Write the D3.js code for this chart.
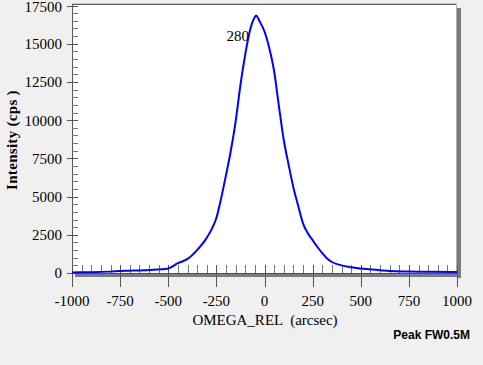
<!DOCTYPE html>
<html><head><meta charset="utf-8">
<script src="https://cdn.jsdelivr.net/npm/d3@7"></script>
<style>html,body{margin:0;padding:0;background:#f0f0f0;}svg{display:block;}</style>
</head><body><svg id="c" width="483" height="365"></svg>
<script>
const omega = [-1000,-900,-800,-750,-700,-600,-500,-450,-400,-350,-300,-275,-250,-225,-200,-175,-150,-125,-100,-75,-50,-44,-25,0,25,50,75,100,125,150,175,200,225,250,275,300,325,350,400,450,530,600,650,750,850,1000];
const intensity = [40,50,90,130,150,200,300,640,920,1500,2300,2850,3600,4900,6400,8000,9900,12300,14300,15900,16750,16850,16450,15800,14700,13200,10900,8700,7100,5600,4400,3250,2600,2150,1700,1300,950,720,500,380,260,180,130,100,80,60];
const xTicks = [-1000,-750,-500,-250,0,250,500,750,1000];
const yTicks = [0,2500,5000,7500,10000,12500,15000,17500];
const peakLabel = "280";
const xTitle = "OMEGA_REL  (arcsec)";
const yTitle = "Intensity (cps )";
const footer = "Peak FW0.5M";

const svg = d3.select("#c");
const L = 72, R = 456, T = 4.5, B = 273;
const x = d3.scaleLinear().domain([-1000,1000]).range([L, R+1]);
const y = d3.scaleLinear().domain([0,17500]).range([B, 5.5]);

// plot area
svg.append("rect").attr("x",L).attr("y",T).attr("width",R-L).attr("height",B-T).attr("fill","#fff");
// shadows
svg.append("rect").attr("x",R+1).attr("y",8).attr("width",4).attr("height",270).attr("fill","#7b7b7b");
svg.append("rect").attr("x",75).attr("y",B).attr("width",R+2-75).attr("height",4).attr("fill","#7b7b7b");
// borders
svg.append("line").attr("x1",L).attr("x2",R+1).attr("y1",3.5).attr("y2",3.5).attr("stroke","#c8c8c8");
svg.append("line").attr("x1",L).attr("x2",R+1).attr("y1",4.5).attr("y2",4.5).attr("stroke","#606060");
svg.append("line").attr("x1",R+0.5).attr("x2",R+0.5).attr("y1",4).attr("y2",B).attr("stroke","#b0b0b0");
svg.append("line").attr("x1",L).attr("x2",R+2).attr("y1",B+0.5).attr("y2",B+0.5).attr("stroke","#555");

// x minor ticks
const xMinor = d3.range(-1000, 1001, 50);
svg.append("g").selectAll("line").data(xMinor).join("line")
  .attr("x1",d=>Math.round(x(d))+0.5).attr("x2",d=>Math.round(x(d))+0.5)
  .attr("y1",265).attr("y2",B).attr("stroke","#777");
svg.append("g").selectAll("line").data(xTicks).join("line")
  .attr("x1",d=>Math.round(x(d))+0.5).attr("x2",d=>Math.round(x(d))+0.5)
  .attr("y1",265).attr("y2",287).attr("stroke","#555");
// y axis
svg.append("line").attr("x1",L+0.5).attr("x2",L+0.5).attr("y1",4).attr("y2",287).attr("stroke","#555");
const yMinor = d3.range(0, 17501, 500);
svg.append("g").selectAll("line").data(yMinor).join("line")
  .attr("x1",L).attr("x2",L+6)
  .attr("y1",d=>Math.round(y(d))+0.5).attr("y2",d=>Math.round(y(d))+0.5).attr("stroke","#777");
svg.append("g").selectAll("line").data(yTicks).join("line")
  .attr("x1",L-5).attr("x2",L+6)
  .attr("y1",d=>Math.round(y(d))+0.5).attr("y2",d=>Math.round(y(d))+0.5).attr("stroke","#555");

// curve
svg.append("path").datum(omega.map((o,i)=>[o,intensity[i]]))
  .attr("fill","none").attr("stroke","#0000ff").attr("stroke-width",2).attr("stroke-linejoin","round")
  .attr("d", d3.line().x(d=>x(d[0])).y(d=>y(d[1])).curve(d3.curveMonotoneX));

const serif = "'Liberation Serif','Times New Roman',serif";
svg.append("g").selectAll("text").data(xTicks).join("text")
  .attr("x",d=>x(d)).attr("y",306).attr("text-anchor","middle")
  .attr("font-family",serif).attr("font-size",15).attr("fill","#000").text(d=>d);
svg.append("g").selectAll("text").data(yTicks).join("text")
  .attr("x",62).attr("y",d=>Math.max(y(d),6.5)).attr("dy","0.36em").attr("text-anchor","end")
  .attr("font-family",serif).attr("font-size",15).attr("fill","#000").text(d=>d);

svg.append("text").attr("x",265).attr("y",325).attr("text-anchor","middle")
  .attr("font-family",serif).attr("font-size",15).attr("fill","#000").attr("xml:space","preserve").style("white-space","pre").text(xTitle);
svg.append("text").attr("transform","translate(17,140) rotate(-90)").attr("text-anchor","middle")
  .attr("font-family",serif).attr("font-size",15).attr("font-weight","bold").attr("letter-spacing","0.3").attr("fill","#000").style("white-space","pre").text(yTitle);
svg.append("text").attr("x",470).attr("y",339).attr("text-anchor","end")
  .attr("font-family","'Liberation Sans',Arial,sans-serif").attr("font-size",12).attr("font-weight","bold").attr("fill","#000").text(footer);
svg.append("text").attr("x",x(-44)-7).attr("y",41).attr("text-anchor","end")
  .attr("font-family",serif).attr("font-size",15).attr("fill","#000").text(peakLabel);
</script></body></html>
